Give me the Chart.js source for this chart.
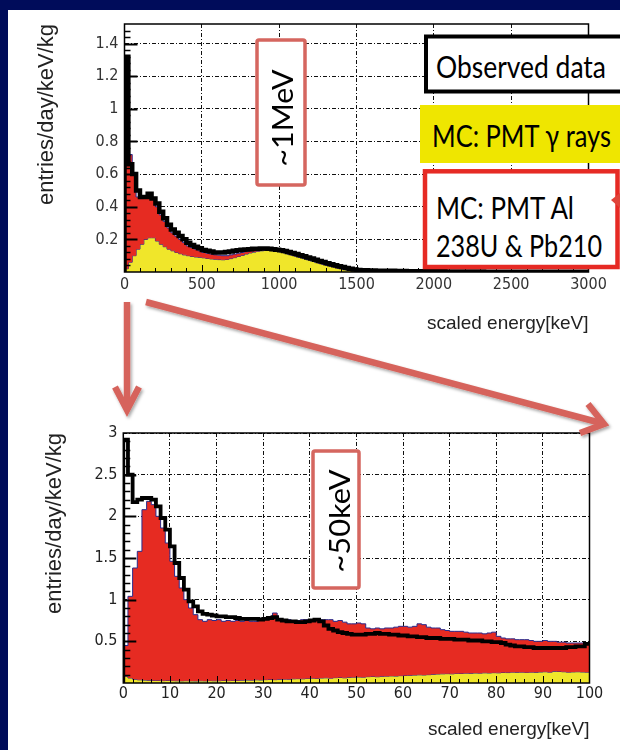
<!DOCTYPE html>
<html>
<head>
<meta charset="utf-8">
<script src="https://cdn.jsdelivr.net/npm/chart.js@4.4.1/dist/chart.umd.min.js"></script>
<style>
  html, body { margin: 0; padding: 0; }
  body { width: 620px; height: 750px; background: #000c5a; position: relative; overflow: hidden; }
  #panel { position: absolute; left: 8px; top: 10px; right: 0; bottom: 0; background: #fff; }
  canvas { position: absolute; left: 0; }
  #cTop { top: 0; }
  #cBot { top: 400px; }
  #notes { position: absolute; left: 0; top: 0; pointer-events: none; }
  #notes text { font-family: Lato, 'Open Sans', sans-serif; fill: #000; }
</style>
</head>
<body>
<div id="panel"></div>
<canvas id="cTop" width="620" height="340"></canvas>
<canvas id="cBot" width="620" height="350"></canvas>

<svg id="notes" width="620" height="750" viewBox="0 0 620 750">
  <defs>
    <filter id="soft" x="-10%" y="-10%" width="120%" height="130%">
      <feDropShadow dx="1.5" dy="2" stdDeviation="1.5" flood-color="#000" flood-opacity="0.35"/>
    </filter>
  </defs>

  <!-- energy-range call-outs -->
  <rect x="257" y="40" width="48" height="145" fill="#fff" stroke="#d5665f" stroke-width="3.5" rx="2"/>
  <text transform="translate(281,118) rotate(-90)" text-anchor="middle" dominant-baseline="central"
        font-size="29" textLength="97" lengthAdjust="spacingAndGlyphs">~1MeV</text>

  <rect x="313" y="451" width="46" height="137" fill="#fff" stroke="#d5665f" stroke-width="3.5" rx="2"/>
  <text transform="translate(338,521) rotate(-90)" text-anchor="middle" dominant-baseline="central"
        font-size="29" textLength="103" lengthAdjust="spacingAndGlyphs">~50keV</text>

  <!-- legend boxes -->
  <rect x="426" y="36.5" width="200" height="55" fill="#fff" stroke="#000" stroke-width="4"/>
  <text x="436" y="78" font-size="30" textLength="170" lengthAdjust="spacingAndGlyphs">Observed data</text>

  <rect x="420" y="105" width="200" height="58" fill="#efe600"/>
  <text x="432" y="147" font-size="30" textLength="179" lengthAdjust="spacingAndGlyphs">MC: PMT γ rays</text>

  <rect x="425" y="171.3" width="192.5" height="95.7" fill="#fff" stroke="#e62a24" stroke-width="4.5"/>
  <text x="436" y="219" font-size="30" textLength="138" lengthAdjust="spacingAndGlyphs">MC: PMT Al</text>
  <text x="436" y="257" font-size="30" textLength="166" lengthAdjust="spacingAndGlyphs">238U &amp; Pb210</text>
  <polygon points="611,200 620,193 620,208" fill="#e0443a"/>

  <!-- zoom arrows -->
  <g stroke="#d6645c" stroke-width="6.5" fill="none" filter="url(#soft)">
    <line x1="127" y1="302" x2="127" y2="408"/>
    <polyline points="115,387 127,410 139,387" stroke-linejoin="miter"/>
    <line x1="146" y1="302" x2="601" y2="423"/>
    <polyline points="588,404 604,424 580,433" stroke-linejoin="miter"/>
  </g>
</svg>

<script>
// ---- full-range spectrum, 25 keV bins starting at 0 keV ----
const topBinWidth = 25;
const topXTicks = [0, 500, 1000, 1500, 2000, 2500, 3000];
const topYTicks = [0.2, 0.4, 0.6, 0.8, 1, 1.2, 1.4];

const topObserved = [
  1.32, 0.66, 0.6, 0.5, 0.46, 0.46, 0.48, 0.45, 0.42, 0.37, 0.33, 0.29,
  0.26, 0.24, 0.22, 0.2, 0.18, 0.165, 0.155, 0.145, 0.135, 0.13, 0.125, 0.12,
  0.12, 0.12, 0.122, 0.125, 0.13, 0.133, 0.136, 0.138, 0.14, 0.142, 0.143, 0.144,
  0.144, 0.143, 0.14, 0.137, 0.133, 0.128, 0.122, 0.116, 0.11, 0.103, 0.096, 0.089,
  0.082, 0.075, 0.068, 0.061, 0.054, 0.048, 0.042, 0.036, 0.03, 0.025, 0.02, 0.016,
  0.013, 0.011, 0.01, 0.009, 0.009, 0.008, 0.008, 0.007, 0.007, 0.007, 0.006, 0.006,
  0.006, 0.005, 0.005, 0.005, 0.005, 0.005, 0.004, 0.004, 0.004, 0.004, 0.004, 0.003,
  0.003, 0.003, 0.003, 0.003, 0.003, 0.003, 0.003, 0.002, 0.003, 0.002, 0.002, 0.002,
  0.002, 0.002, 0.002, 0.002, 0.002, 0.002, 0.002, 0.002, 0.001, 0.002, 0.001, 0.001,
  0.001, 0.001, 0.001, 0.001, 0.001, 0.001, 0.001, 0.001, 0.001, 0.001, 0.001, 0.001
];
// MC: PMT gamma rays
const topGamma = [
  0.02, 0.06, 0.1, 0.14, 0.17, 0.2, 0.21, 0.21, 0.19, 0.17, 0.155, 0.14,
  0.13, 0.12, 0.112, 0.105, 0.1, 0.095, 0.092, 0.09, 0.087, 0.083, 0.08, 0.078,
  0.076, 0.075, 0.077, 0.082, 0.088, 0.095, 0.102, 0.11, 0.117, 0.122, 0.127, 0.13,
  0.132, 0.133, 0.13, 0.127, 0.123, 0.117, 0.11, 0.103, 0.096, 0.089, 0.082, 0.075,
  0.068, 0.061, 0.054, 0.047, 0.04, 0.034, 0.028, 0.022, 0.017, 0.013, 0.01, 0.008,
  0.006, 0.005, 0.005, 0.004, 0.004, 0.003, 0.003, 0.003, 0.002, 0.002, 0.001, 0.001
];
// stacked MC: PMT gamma rays + PMT Al (238U & Pb210)
const topGammaAl = [
  1.1, 0.72, 0.6, 0.46, 0.45, 0.46, 0.47, 0.45, 0.4, 0.35, 0.31, 0.27,
  0.24, 0.22, 0.2, 0.18, 0.16, 0.15, 0.14, 0.13, 0.12, 0.115, 0.11, 0.105,
  0.103, 0.1, 0.1, 0.105, 0.11, 0.115, 0.12, 0.125, 0.128, 0.13, 0.133, 0.134,
  0.134, 0.135, 0.132, 0.129, 0.125, 0.119, 0.112, 0.105, 0.098, 0.091, 0.084, 0.077,
  0.07, 0.063, 0.056, 0.049, 0.042, 0.036, 0.03, 0.024, 0.019, 0.015, 0.012, 0.009,
  0.007, 0.006, 0.006, 0.005, 0.005, 0.004, 0.004, 0.004, 0.003, 0.003, 0.002, 0.002
];

// ---- low-energy spectrum, 1 keV bins starting at 0 keV ----
const botBinWidth = 1;
const botXTicks = [0, 10, 20, 30, 40, 50, 60, 70, 80, 90, 100];
const botYTicks = [0.5, 1, 1.5, 2, 2.5, 3];

const botObserved = [
  2.92, 2.5, 2.17, 2.2, 2.22, 2.22, 2.2, 2.12, 1.98, 1.84,
  1.64, 1.44, 1.26, 1.12, 0.98, 0.92, 0.86, 0.83, 0.82, 0.81,
  0.8, 0.8, 0.79, 0.79, 0.78, 0.77, 0.77, 0.77, 0.77, 0.76,
  0.77, 0.78, 0.79, 0.76, 0.75, 0.74, 0.74, 0.73, 0.73, 0.74,
  0.75, 0.76, 0.74, 0.69, 0.65, 0.63, 0.61, 0.6, 0.59, 0.58,
  0.58, 0.58, 0.59, 0.59, 0.6, 0.59, 0.59, 0.58, 0.58, 0.57,
  0.57, 0.56, 0.56, 0.55, 0.55, 0.54, 0.54, 0.54, 0.53, 0.53,
  0.53, 0.52, 0.52, 0.52, 0.51, 0.51, 0.51, 0.5, 0.5, 0.49,
  0.49, 0.48, 0.46, 0.45, 0.44, 0.44, 0.43, 0.43, 0.42, 0.42,
  0.42, 0.42, 0.42, 0.42, 0.42, 0.43, 0.43, 0.44, 0.44, 0.47
];
const botGamma = [
  0.08, 0.06, 0.045, 0.038, 0.035, 0.032, 0.03, 0.03, 0.028, 0.03,
  0.028, 0.026, 0.025, 0.027, 0.025, 0.024, 0.026, 0.025, 0.028, 0.026,
  0.027, 0.03, 0.028, 0.031, 0.03, 0.033, 0.035, 0.034, 0.038, 0.036,
  0.04, 0.042, 0.04, 0.044, 0.046, 0.045, 0.05, 0.052, 0.05, 0.055,
  0.058, 0.055, 0.06, 0.062, 0.058, 0.064, 0.066, 0.062, 0.068, 0.07,
  0.072, 0.07, 0.076, 0.078, 0.075, 0.08, 0.082, 0.085, 0.083, 0.088,
  0.09, 0.092, 0.095, 0.098, 0.096, 0.1, 0.104, 0.108, 0.11, 0.112,
  0.11, 0.115, 0.114, 0.118, 0.116, 0.12, 0.118, 0.122, 0.12, 0.124,
  0.122, 0.126, 0.125, 0.13, 0.128, 0.13, 0.127, 0.13, 0.128, 0.132,
  0.135, 0.13, 0.14, 0.138, 0.135, 0.13, 0.133, 0.135, 0.132, 0.13
];
const botGammaAl = [
  0.45, 1.04, 1.38, 1.58, 2.08, 2.18, 2.14, 2.0, 1.86, 1.68,
  1.46, 1.28, 1.14, 1.0, 0.9, 0.82, 0.76, 0.74, 0.76, 0.75,
  0.76, 0.74, 0.75, 0.74, 0.75, 0.74, 0.75, 0.74, 0.74, 0.75,
  0.76, 0.78, 0.84, 0.77, 0.76, 0.76, 0.75, 0.75, 0.76, 0.76,
  0.76, 0.77, 0.76, 0.76, 0.76, 0.74, 0.75, 0.73, 0.71, 0.71,
  0.72, 0.71, 0.66, 0.65, 0.66, 0.65, 0.66, 0.66, 0.67, 0.68,
  0.68, 0.67, 0.68, 0.71, 0.7, 0.67, 0.66, 0.66, 0.64, 0.63,
  0.62, 0.62, 0.62, 0.61, 0.6, 0.6, 0.6, 0.59, 0.6, 0.61,
  0.56, 0.54, 0.53, 0.53, 0.52, 0.52, 0.52, 0.51, 0.5, 0.5,
  0.51, 0.5, 0.5, 0.49, 0.49, 0.48, 0.48, 0.48, 0.48, 0.47
];

// Histogram outline: rise from zero at the first edge, one level per bin,
// closing at the upper edge of the last bin.
function histPoints(values, width) {
  const pts = [{ x: 0, y: 0 }];
  values.forEach((v, i) => pts.push({ x: i * width, y: v }));
  pts.push({ x: values.length * width, y: values[values.length - 1] });
  return pts;
}

// ROOT-style frame with ticks pointing into the pad
const rootFrame = {
  id: 'rootFrame',
  afterDatasetsDraw(chart, _args, o) {
    const { ctx, chartArea: a, scales: { x, y } } = chart;
    ctx.save();
    ctx.strokeStyle = '#000';
    const eps = 1e-6;
    for (let v = o.yMinor; v < y.max - eps; v += o.yMinor) {
      const major = Math.abs(v / o.yMajor - Math.round(v / o.yMajor)) < 1e-4;
      const py = Math.round(y.getPixelForValue(v)) + 0.5;
      ctx.lineWidth = major ? 2 : 1.5;
      ctx.beginPath();
      ctx.moveTo(a.left, py);
      ctx.lineTo(a.left + (major ? o.majorLen : o.minorLen), py);
      ctx.stroke();
    }
    for (let v = o.xMinor; v < x.max - eps; v += o.xMinor) {
      const major = Math.abs(v / o.xMajor - Math.round(v / o.xMajor)) < 1e-4;
      const px = Math.round(x.getPixelForValue(v)) + 0.5;
      ctx.lineWidth = 1;
      ctx.beginPath();
      ctx.moveTo(px, a.bottom);
      ctx.lineTo(px, a.bottom - (major ? 7 : 4));
      ctx.stroke();
    }
    ctx.lineWidth = o.frameWidth;
    ctx.strokeRect(a.left, a.top, a.right - a.left, a.bottom - a.top);
    ctx.restore();
  }
};

const tickFamily = "'Liberation Sans Narrow', 'DejaVu Sans Condensed', 'Liberation Sans', sans-serif";
const titleFamily = "'Liberation Sans', Arial, sans-serif";

function spectrum(canvasId, cfg) {
  return new Chart(document.getElementById(canvasId), {
    type: 'line',
    data: {
      datasets: [
        {
          label: 'MC: PMT γ rays',
          data: histPoints(cfg.gamma, cfg.binWidth),
          stepped: 'before',
          borderColor: '#2b2b8c', borderWidth: 1,
          backgroundColor: '#f0e62a', fill: 'origin',
          pointRadius: 0, order: 2
        },
        {
          label: 'MC: PMT Al 238U & Pb210',
          data: histPoints(cfg.gammaAl, cfg.binWidth),
          stepped: 'before',
          borderColor: '#2b2b8c', borderWidth: 1,
          backgroundColor: '#e62b22', fill: '-1',
          pointRadius: 0, order: 1
        },
        {
          label: 'Observed data',
          data: histPoints(cfg.observed, cfg.binWidth),
          stepped: 'before',
          borderColor: '#000', borderWidth: cfg.dataWidth,
          borderJoinStyle: 'miter',
          fill: false, pointRadius: 0, order: 0
        }
      ]
    },
    options: {
      responsive: false,
      animation: false,
      events: [],
      layout: { padding: { top: cfg.padTop, right: cfg.padRight, left: 0, bottom: 0 } },
      plugins: {
        legend: { display: false },
        tooltip: { enabled: false },
        rootFrame: cfg.frame
      },
      scales: {
        x: {
          type: 'linear', min: 0, max: cfg.xMax,
          afterFit(s) { s.height = cfg.xAxisHeight; },
          afterBuildTicks(s) { s.ticks = cfg.xTicks.map(v => ({ value: v })); },
          grid: { color: '#111', lineWidth: 1, drawTicks: false },
          border: { display: false, dash: [4, 2, 1, 2] },
          ticks: {
            padding: cfg.xTickPad, autoSkip: false, maxRotation: 0,
            color: cfg.tickColor, font: { family: tickFamily, size: 16 },
            callback: v => String(v)
          },
          title: {
            display: true, text: 'scaled energy[keV]', align: 'end',
            color: '#222', font: { family: titleFamily, size: 19 },
            padding: { top: 0, bottom: cfg.xTitlePad }
          }
        },
        y: {
          type: 'linear', min: 0, max: cfg.yMax,
          afterFit(s) { s.width = cfg.yAxisWidth; },
          afterBuildTicks(s) { s.ticks = cfg.yTicks.map(v => ({ value: v })); },
          grid: { color: '#111', lineWidth: 1, drawTicks: false },
          border: { display: false, dash: [4, 2, 1, 2] },
          ticks: {
            padding: 6, autoSkip: false,
            color: cfg.tickColor, font: { family: tickFamily, size: 16 },
            callback: v => String(v)
          },
          title: {
            display: true, text: 'entries/day/keV/kg', align: 'end',
            color: '#222', font: { family: titleFamily, size: 22 },
            padding: { top: cfg.yTitlePad, bottom: 0 }
          }
        }
      }
    },
    plugins: [rootFrame]
  });
}

spectrum('cTop', {
  binWidth: topBinWidth, observed: topObserved, gamma: topGamma, gammaAl: topGammaAl,
  xMax: 3000, yMax: 1.52, xTicks: topXTicks, yTicks: topYTicks,
  padTop: 24, padRight: 31.5, yAxisWidth: 124.5, xAxisHeight: 68,
  xTickPad: 3, xTitlePad: 5, yTitlePad: 34, dataWidth: 4.5, tickColor: '#333',
  frame: { yMinor: 0.04, yMajor: 0.2, xMinor: 100, xMajor: 500, majorLen: 13, minorLen: 6, frameWidth: 1.5 }
});

spectrum('cBot', {
  binWidth: botBinWidth, observed: botObserved, gamma: botGamma, gammaAl: botGammaAl,
  xMax: 100, yMax: 3, xTicks: botXTicks, yTicks: botYTicks,
  padTop: 33, padRight: 30.5, yAxisWidth: 123.3, xAxisHeight: 67,
  xTickPad: 1, xTitlePad: 9, yTitlePad: 42, dataWidth: 3.8, tickColor: '#222',
  frame: { yMinor: 0.1, yMajor: 0.5, xMinor: 2, xMajor: 10, majorLen: 13, minorLen: 7, frameWidth: 1.5 }
});
</script>
</body>
</html>
